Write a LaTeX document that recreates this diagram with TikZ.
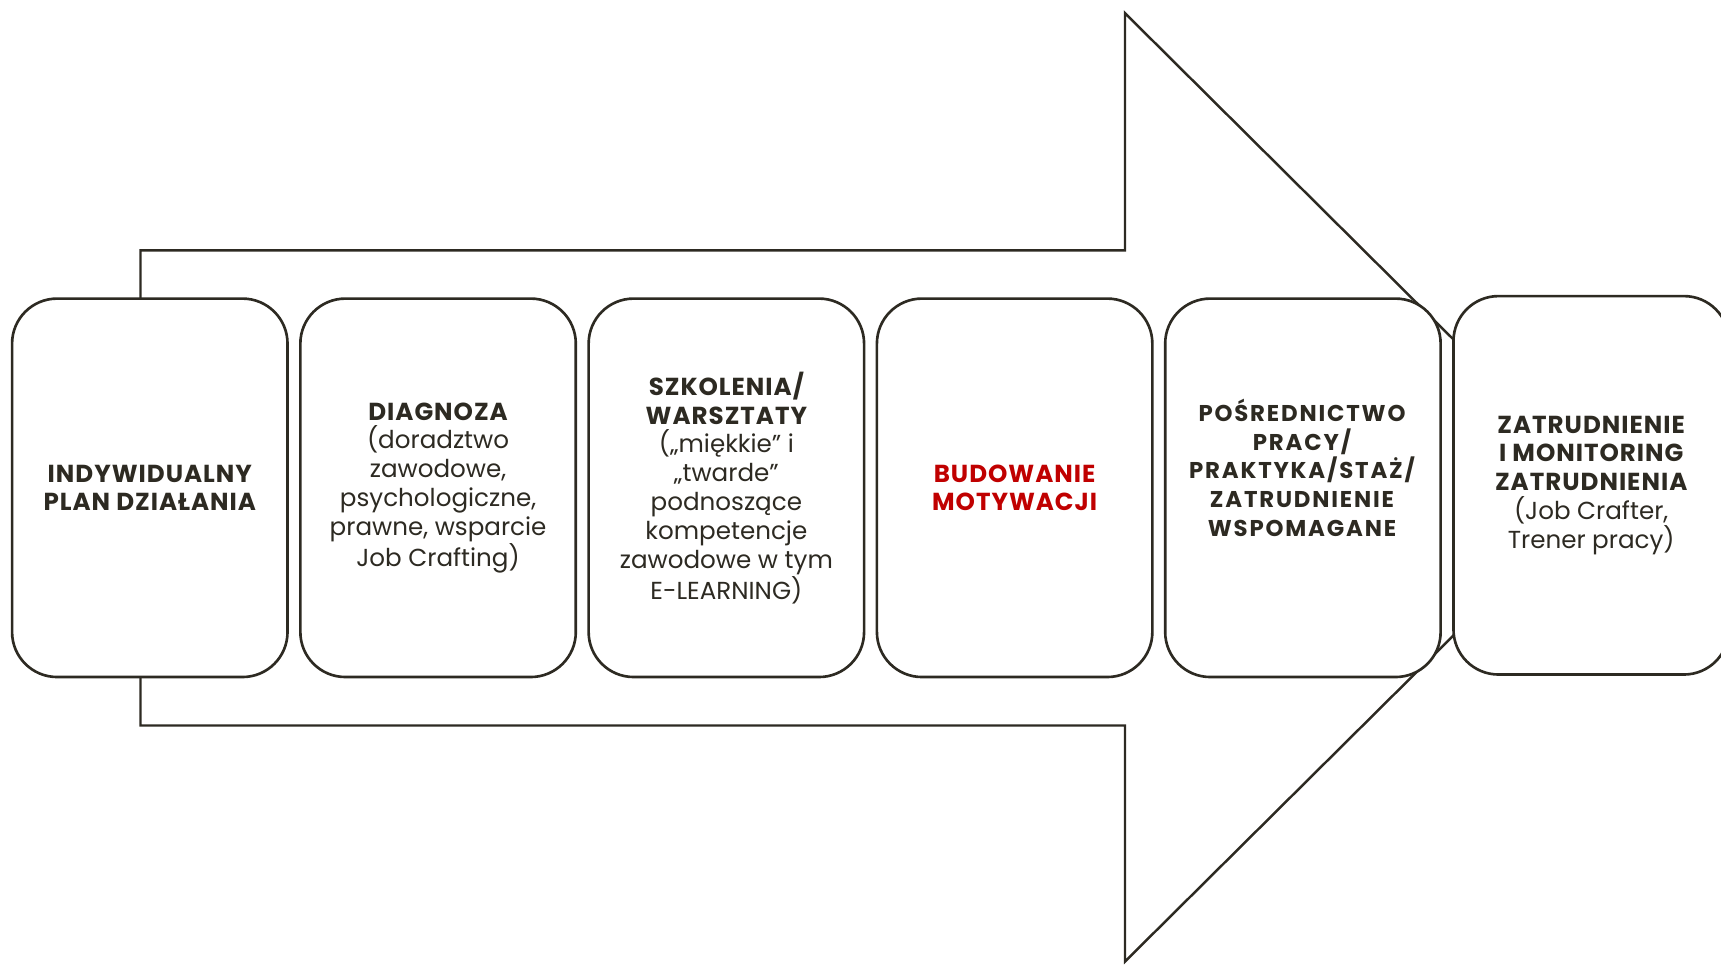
\documentclass[tikz,border=0pt]{standalone}
\usepackage{fontspec}
\setmainfont{Poppins}
\usetikzlibrary{positioning}
\definecolor{ink}{RGB}{45,42,34}
\definecolor{motiv}{RGB}{192,0,0}
\newcommand{\hd}[1]{{\bfseries\addfontfeatures{LetterSpace=4}#1}}

\begin{document}
\begin{tikzpicture}[x=0.02cm,y=-0.02cm,
    stage/.style={draw=ink, line width=1.5pt, fill=white, rounded corners=0.9cm,
        minimum width=5.51cm, minimum height=7.57cm, align=center, text=ink,
        inner sep=2pt, font=\fontsize{14}{16.4}\selectfont},
    node distance=0.204cm]

    \useasboundingbox (0,0) rectangle (1721,964);

    % big arrow behind the stages
    \draw[ink, line width=1.4pt] (140.5,250.3) -- ++(984.5,0) -- ++(0,-237.1)
        -- (1602.5,487.5) -- (1125,961.5) -- ++(0,-236) -- ++(-984.5,0) -- cycle;

    \node[stage] (plan) at (149.8,487.8)
        {\hd{INDYWIDUALNY}\\\hd{PLAN DZIAŁANIA}};
    \node[stage, right=of plan] (diag)
        {\hd{DIAGNOZA}\\(doradztwo\\zawodowe,\\psychologiczne,\\prawne, wsparcie\\Job Crafting)};
    \node[stage, right=of diag] (szkol)
        {\hd{SZKOLENIA/}\\\hd{WARSZTATY}\\(„miękkie” i\\„twarde”\\podnoszące\\kompetencje\\zawodowe w tym\\E-LEARNING)};
    \node[stage, right=of szkol, text=motiv] (motyw)
        {\hd{BUDOWANIE}\\\hd{MOTYWACJI}};
    \node[stage, right=of motyw] (posr) {};
    \node[text=ink, align=center, font=\fontsize{13}{16.4}\selectfont\addfontfeatures{LetterSpace=8}]
        (posrtxt) at ([yshift=0.4cm]posr.center)
        {\textbf{POŚREDNICTWO}\\\textbf{PRACY/}\\\textbf{PRAKTYKA/STAŻ/}\\\textbf{ZATRUDNIENIE}\\\textbf{WSPOMAGANE}};
    \node[stage, right=of posr, yshift=0.05cm] (zatr)
        {\hd{ZATRUDNIENIE}\\\hd{I MONITORING}\\\hd{ZATRUDNIENIA}\\(Job Crafter,\\Trener pracy)};

\end{tikzpicture}
\end{document}
